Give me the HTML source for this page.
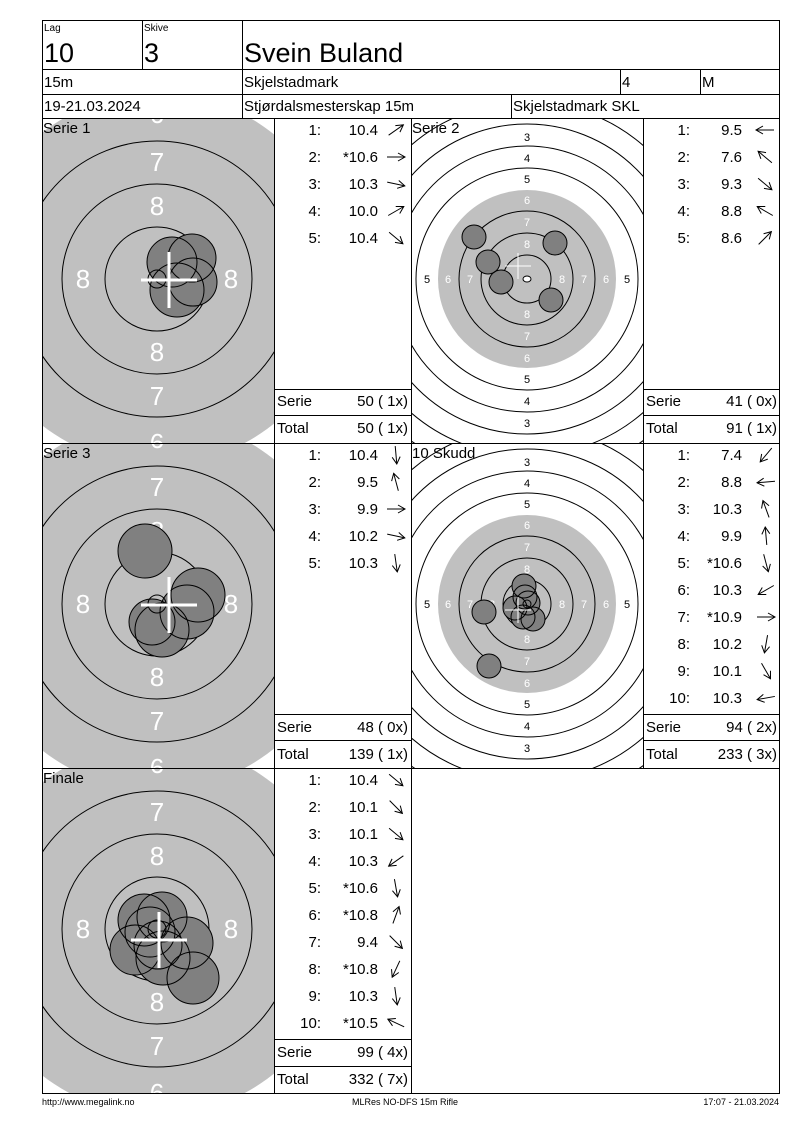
<!DOCTYPE html>
<html><head><meta charset="utf-8"><style>
html,body{margin:0;padding:0;background:#fff}
svg{display:block}
text{font-family:"Liberation Sans",Arial,sans-serif}
</style></head><body>
<svg width="800" height="1130" viewBox="0 0 800 1130" xmlns="http://www.w3.org/2000/svg">
<defs>
<clipPath id="c1" clipPathUnits="userSpaceOnUse"><rect x="43" y="119" width="231" height="324"/></clipPath>
<clipPath id="c2" clipPathUnits="userSpaceOnUse"><rect x="43" y="444" width="231" height="324"/></clipPath>
<clipPath id="c3" clipPathUnits="userSpaceOnUse"><rect x="43" y="769" width="231" height="324"/></clipPath>
<clipPath id="d1" clipPathUnits="userSpaceOnUse"><rect x="412" y="119" width="231" height="324"/></clipPath>
<clipPath id="d2" clipPathUnits="userSpaceOnUse"><rect x="412" y="444" width="231" height="324"/></clipPath>
</defs>

<g clip-path="url(#c1)"><g transform="translate(157,279)">
<circle r="186" fill="#c0c0c0"/>
<g fill="none" stroke="#000"><circle r="52"/><circle r="95"/><circle r="138"/></g>
<g fill="#fff" font-size="26" text-anchor="middle"><text x="0" y="-64">8</text><text x="0" y="82">8</text><text x="-74" y="9">8</text><text x="74" y="9">8</text><text x="0" y="-108">7</text><text x="0" y="126">7</text><text x="0" y="-156">6</text><text x="0" y="173">6</text></g>
</g>
<g fill="#808080"><circle cx="192" cy="258" r="24"/><circle cx="172" cy="262" r="25"/><circle cx="193" cy="282" r="24"/><circle cx="177" cy="290" r="27"/></g>
<g fill="none" stroke="#000"><circle cx="192" cy="258" r="24"/><circle cx="172" cy="262" r="25"/><circle cx="193" cy="282" r="24"/><circle cx="177" cy="290" r="27"/><circle cx="157" cy="279" r="9"/></g>
<g stroke="#fff" stroke-width="3"><line x1="141" y1="280" x2="197" y2="280"/><line x1="169" y1="252" x2="169" y2="308"/></g>
</g>

<g clip-path="url(#c2)"><g transform="translate(157,604)">
<circle r="186" fill="#c0c0c0"/>
<g fill="none" stroke="#000"><circle r="52"/><circle r="95"/><circle r="138"/></g>
<g fill="#fff" font-size="26" text-anchor="middle"><text x="0" y="-64">8</text><text x="0" y="82">8</text><text x="-74" y="9">8</text><text x="74" y="9">8</text><text x="0" y="-108">7</text><text x="0" y="126">7</text><text x="0" y="-156">6</text><text x="0" y="173">6</text></g>
</g>
<g fill="#808080"><circle cx="145" cy="551" r="27"/><circle cx="198" cy="595" r="27"/><circle cx="187" cy="612" r="27"/><circle cx="152" cy="622" r="23"/><circle cx="162" cy="630" r="27"/></g>
<g fill="none" stroke="#000"><circle cx="145" cy="551" r="27"/><circle cx="198" cy="595" r="27"/><circle cx="187" cy="612" r="27"/><circle cx="152" cy="622" r="23"/><circle cx="162" cy="630" r="27"/><circle cx="157" cy="604" r="9"/></g>
<g stroke="#fff" stroke-width="3"><line x1="141" y1="605" x2="197" y2="605"/><line x1="169" y1="577" x2="169" y2="633"/></g>
</g>

<g clip-path="url(#c3)"><g transform="translate(157,929)">
<circle r="186" fill="#c0c0c0"/>
<g fill="none" stroke="#000"><circle r="52"/><circle r="95"/><circle r="138"/></g>
<g fill="#fff" font-size="26" text-anchor="middle"><text x="0" y="-64">8</text><text x="0" y="82">8</text><text x="-74" y="9">8</text><text x="74" y="9">8</text><text x="0" y="-108">7</text><text x="0" y="126">7</text><text x="0" y="-156">6</text><text x="0" y="173">6</text></g>
</g>
<g fill="#808080"><circle cx="144" cy="920" r="26"/><circle cx="162" cy="917" r="25"/><circle cx="135" cy="950" r="25"/><circle cx="187" cy="943" r="26"/><circle cx="150" cy="932" r="25"/><circle cx="193" cy="978" r="26"/><circle cx="158" cy="945" r="24"/><circle cx="163" cy="958" r="27"/></g>
<g fill="none" stroke="#000"><circle cx="144" cy="920" r="26"/><circle cx="162" cy="917" r="25"/><circle cx="135" cy="950" r="25"/><circle cx="187" cy="943" r="26"/><circle cx="150" cy="932" r="25"/><circle cx="193" cy="978" r="26"/><circle cx="158" cy="945" r="24"/><circle cx="163" cy="958" r="27"/><circle cx="157" cy="929" r="9"/></g>
<g stroke="#fff" stroke-width="3"><line x1="131" y1="940" x2="187" y2="940"/><line x1="159" y1="912" x2="159" y2="968"/></g>
</g>

<g clip-path="url(#d1)"><g transform="translate(527,279)">
<g fill="none" stroke="#000"><circle r="221"/><circle r="199"/><circle r="177"/><circle r="155"/><circle r="133"/><circle r="111"/></g>
<circle r="89" fill="#c0c0c0"/>
<g fill="none" stroke="#000"><circle r="68"/><circle r="46"/><circle r="24"/></g>
<g font-size="11" text-anchor="middle" fill="#000"><text y="-138">3</text><text y="-117">4</text><text y="-96">5</text><text y="104">5</text><text y="126">4</text><text y="148">3</text><text x="-100" y="4">5</text><text x="100" y="4">5</text></g>
<g font-size="11" text-anchor="middle" fill="#fff"><text y="-75">6</text><text y="-53">7</text><text y="-31">8</text><text y="39">8</text><text y="61">7</text><text y="83">6</text><text x="-79" y="4">6</text><text x="-57" y="4">7</text><text x="-35" y="4">8</text><text x="79" y="4">6</text><text x="57" y="4">7</text><text x="35" y="4">8</text></g>
<ellipse rx="4" ry="3" fill="#fff" stroke="#000"/>
</g>
<g fill="#808080"><circle cx="474" cy="237" r="12"/><circle cx="555" cy="243" r="12"/><circle cx="488" cy="262" r="12"/><circle cx="501" cy="282" r="12"/><circle cx="551" cy="300" r="12"/></g>
<g fill="none" stroke="#000"><circle cx="474" cy="237" r="12"/><circle cx="555" cy="243" r="12"/><circle cx="488" cy="262" r="12"/><circle cx="501" cy="282" r="12"/><circle cx="551" cy="300" r="12"/></g>
<g stroke="#fff" stroke-width="1"><line x1="505" y1="266" x2="531" y2="266"/><line x1="518" y1="253" x2="518" y2="279"/></g>
</g>

<g clip-path="url(#d2)"><g transform="translate(527,604)">
<g fill="none" stroke="#000"><circle r="221"/><circle r="199"/><circle r="177"/><circle r="155"/><circle r="133"/><circle r="111"/></g>
<circle r="89" fill="#c0c0c0"/>
<g fill="none" stroke="#000"><circle r="68"/><circle r="46"/><circle r="24"/></g>
<g font-size="11" text-anchor="middle" fill="#000"><text y="-138">3</text><text y="-117">4</text><text y="-96">5</text><text y="104">5</text><text y="126">4</text><text y="148">3</text><text x="-100" y="4">5</text><text x="100" y="4">5</text></g>
<g font-size="11" text-anchor="middle" fill="#fff"><text y="-75">6</text><text y="-53">7</text><text y="-31">8</text><text y="39">8</text><text y="61">7</text><text y="83">6</text><text x="-79" y="4">6</text><text x="-57" y="4">7</text><text x="-35" y="4">8</text><text x="79" y="4">6</text><text x="57" y="4">7</text><text x="35" y="4">8</text></g>
</g>
<g fill="#808080"><circle cx="524" cy="586" r="12"/><circle cx="484" cy="612" r="12"/><circle cx="489" cy="666" r="12"/><circle cx="528" cy="603" r="12"/><circle cx="533" cy="619" r="12"/><circle cx="523" cy="617" r="12"/><circle cx="525" cy="597" r="12"/><circle cx="515" cy="608" r="12"/></g>
<g fill="none" stroke="#000"><circle cx="524" cy="586" r="12"/><circle cx="484" cy="612" r="12"/><circle cx="489" cy="666" r="12"/><circle cx="528" cy="603" r="12"/><circle cx="533" cy="619" r="12"/><circle cx="523" cy="617" r="12"/><circle cx="525" cy="597" r="12"/><circle cx="515" cy="608" r="12"/><circle cx="527" cy="604" r="4"/></g>
<g stroke="#fff" stroke-width="1"><line x1="505" y1="610" x2="531" y2="610"/><line x1="518" y1="597" x2="518" y2="623"/></g>
</g>

<g stroke="#000" stroke-width="1" fill="none" shape-rendering="crispEdges">
<rect x="42.5" y="20.5" width="737" height="1073"/>
<line x1="42" y1="69.5" x2="780" y2="69.5"/>
<line x1="42" y1="94.5" x2="780" y2="94.5"/>
<line x1="42" y1="118.5" x2="780" y2="118.5"/>
<line x1="142.5" y1="20" x2="142.5" y2="69"/>
<line x1="242.5" y1="20" x2="242.5" y2="118"/>
<line x1="620.5" y1="69" x2="620.5" y2="94"/>
<line x1="700.5" y1="69" x2="700.5" y2="94"/>
<line x1="511.5" y1="94" x2="511.5" y2="118"/>
<line x1="42" y1="443.5" x2="780" y2="443.5"/>
<line x1="42" y1="768.5" x2="780" y2="768.5"/>
<line x1="274.5" y1="118" x2="274.5" y2="1093"/>
<line x1="411.5" y1="118" x2="411.5" y2="1093"/>
<line x1="643.5" y1="118" x2="643.5" y2="768"/>
<line x1="274" y1="389.5" x2="411" y2="389.5"/>
<line x1="274" y1="415.5" x2="411" y2="415.5"/>
<line x1="643" y1="389.5" x2="780" y2="389.5"/>
<line x1="643" y1="415.5" x2="780" y2="415.5"/>
<line x1="274" y1="714.5" x2="411" y2="714.5"/>
<line x1="274" y1="740.5" x2="411" y2="740.5"/>
<line x1="643" y1="714.5" x2="780" y2="714.5"/>
<line x1="643" y1="740.5" x2="780" y2="740.5"/>
<line x1="274" y1="1039.5" x2="411" y2="1039.5"/>
<line x1="274" y1="1066.5" x2="411" y2="1066.5"/>
</g>

<g fill="#000">
<text x="44" y="31" font-size="10">Lag</text>
<text x="144" y="31" font-size="10">Skive</text>
<text x="44" y="62" font-size="27">10</text>
<text x="144" y="62" font-size="27">3</text>
<text x="244" y="62" font-size="27">Svein Buland</text>
<text x="44" y="87" font-size="15">15m</text>
<text x="244" y="87" font-size="15">Skjelstadmark</text>
<text x="622" y="87" font-size="15">4</text>
<text x="702" y="87" font-size="15">M</text>
<text x="44" y="111" font-size="15">19-21.03.2024</text>
<text x="244" y="111" font-size="15">Stjørdalsmesterskap 15m</text>
<text x="513" y="111" font-size="15">Skjelstadmark SKL</text>
<text x="43" y="133" font-size="15">Serie 1</text>
<text x="412" y="133" font-size="15">Serie 2</text>
<text x="43" y="458" font-size="15">Serie 3</text>
<text x="412" y="458" font-size="15">10 Skudd</text>
<text x="43" y="783" font-size="15">Finale</text>
</g>

<g font-size="15" fill="#000">
<g text-anchor="end">
<text x="321" y="135">1:</text><text x="378" y="135">10.4</text>
<text x="321" y="162">2:</text><text x="378" y="162">*10.6</text>
<text x="321" y="189">3:</text><text x="378" y="189">10.3</text>
<text x="321" y="216">4:</text><text x="378" y="216">10.0</text>
<text x="321" y="243">5:</text><text x="378" y="243">10.4</text>
<text x="408" y="406">50 ( 1x)</text><text x="408" y="433">50 ( 1x)</text>

<text x="690" y="135">1:</text><text x="742" y="135">9.5</text>
<text x="690" y="162">2:</text><text x="742" y="162">7.6</text>
<text x="690" y="189">3:</text><text x="742" y="189">9.3</text>
<text x="690" y="216">4:</text><text x="742" y="216">8.8</text>
<text x="690" y="243">5:</text><text x="742" y="243">8.6</text>
<text x="777" y="406">41 ( 0x)</text><text x="777" y="433">91 ( 1x)</text>

<text x="321" y="460">1:</text><text x="378" y="460">10.4</text>
<text x="321" y="487">2:</text><text x="378" y="487">9.5</text>
<text x="321" y="514">3:</text><text x="378" y="514">9.9</text>
<text x="321" y="541">4:</text><text x="378" y="541">10.2</text>
<text x="321" y="568">5:</text><text x="378" y="568">10.3</text>
<text x="408" y="732">48 ( 0x)</text><text x="408" y="759">139 ( 1x)</text>

<text x="690" y="460">1:</text><text x="742" y="460">7.4</text>
<text x="690" y="487">2:</text><text x="742" y="487">8.8</text>
<text x="690" y="514">3:</text><text x="742" y="514">10.3</text>
<text x="690" y="541">4:</text><text x="742" y="541">9.9</text>
<text x="690" y="568">5:</text><text x="742" y="568">*10.6</text>
<text x="690" y="595">6:</text><text x="742" y="595">10.3</text>
<text x="690" y="622">7:</text><text x="742" y="622">*10.9</text>
<text x="690" y="649">8:</text><text x="742" y="649">10.2</text>
<text x="690" y="676">9:</text><text x="742" y="676">10.1</text>
<text x="690" y="703">10:</text><text x="742" y="703">10.3</text>
<text x="777" y="732">94 ( 2x)</text><text x="777" y="759">233 ( 3x)</text>

<text x="321" y="785">1:</text><text x="378" y="785">10.4</text>
<text x="321" y="812">2:</text><text x="378" y="812">10.1</text>
<text x="321" y="839">3:</text><text x="378" y="839">10.1</text>
<text x="321" y="866">4:</text><text x="378" y="866">10.3</text>
<text x="321" y="893">5:</text><text x="378" y="893">*10.6</text>
<text x="321" y="920">6:</text><text x="378" y="920">*10.8</text>
<text x="321" y="947">7:</text><text x="378" y="947">9.4</text>
<text x="321" y="974">8:</text><text x="378" y="974">*10.8</text>
<text x="321" y="1001">9:</text><text x="378" y="1001">10.3</text>
<text x="321" y="1028">10:</text><text x="378" y="1028">*10.5</text>
<text x="408" y="1057">99 ( 4x)</text><text x="408" y="1084">332 ( 7x)</text>
</g>
<text x="277" y="406">Serie</text><text x="277" y="433">Total</text>
<text x="646" y="406">Serie</text><text x="646" y="433">Total</text>
<text x="277" y="732">Serie</text><text x="277" y="759">Total</text>
<text x="646" y="732">Serie</text><text x="646" y="759">Total</text>
<text x="277" y="1057">Serie</text><text x="277" y="1084">Total</text>
</g>

<g stroke="#000" stroke-width="1" fill="none">
<g transform="translate(396,130) rotate(-35)"><line x1="-9" x2="9"/><polyline points="2,-4 9,0 2,4"/></g>
<g transform="translate(396,157) rotate(0)"><line x1="-9" x2="9"/><polyline points="2,-4 9,0 2,4"/></g>
<g transform="translate(396,184) rotate(12)"><line x1="-9" x2="9"/><polyline points="2,-4 9,0 2,4"/></g>
<g transform="translate(396,211) rotate(-30)"><line x1="-9" x2="9"/><polyline points="2,-4 9,0 2,4"/></g>
<g transform="translate(396,238) rotate(40)"><line x1="-9" x2="9"/><polyline points="2,-4 9,0 2,4"/></g>

<g transform="translate(765,130) rotate(180)"><line x1="-9" x2="9"/><polyline points="2,-4 9,0 2,4"/></g>
<g transform="translate(765,157) rotate(-140)"><line x1="-9" x2="9"/><polyline points="2,-4 9,0 2,4"/></g>
<g transform="translate(765,184) rotate(40)"><line x1="-9" x2="9"/><polyline points="2,-4 9,0 2,4"/></g>
<g transform="translate(765,211) rotate(-150)"><line x1="-9" x2="9"/><polyline points="2,-4 9,0 2,4"/></g>
<g transform="translate(765,238) rotate(-45)"><line x1="-9" x2="9"/><polyline points="2,-4 9,0 2,4"/></g>

<g transform="translate(396,455) rotate(85)"><line x1="-9" x2="9"/><polyline points="2,-4 9,0 2,4"/></g>
<g transform="translate(396,482) rotate(-105)"><line x1="-9" x2="9"/><polyline points="2,-4 9,0 2,4"/></g>
<g transform="translate(396,509) rotate(0)"><line x1="-9" x2="9"/><polyline points="2,-4 9,0 2,4"/></g>
<g transform="translate(396,536) rotate(12)"><line x1="-9" x2="9"/><polyline points="2,-4 9,0 2,4"/></g>
<g transform="translate(396,563) rotate(82)"><line x1="-9" x2="9"/><polyline points="2,-4 9,0 2,4"/></g>

<g transform="translate(766,455) rotate(130)"><line x1="-9" x2="9"/><polyline points="2,-4 9,0 2,4"/></g>
<g transform="translate(766,482) rotate(175)"><line x1="-9" x2="9"/><polyline points="2,-4 9,0 2,4"/></g>
<g transform="translate(766,509) rotate(-110)"><line x1="-9" x2="9"/><polyline points="2,-4 9,0 2,4"/></g>
<g transform="translate(766,536) rotate(-95)"><line x1="-9" x2="9"/><polyline points="2,-4 9,0 2,4"/></g>
<g transform="translate(766,563) rotate(75)"><line x1="-9" x2="9"/><polyline points="2,-4 9,0 2,4"/></g>
<g transform="translate(766,590) rotate(150)"><line x1="-9" x2="9"/><polyline points="2,-4 9,0 2,4"/></g>
<g transform="translate(766,617) rotate(0)"><line x1="-9" x2="9"/><polyline points="2,-4 9,0 2,4"/></g>
<g transform="translate(766,644) rotate(100)"><line x1="-9" x2="9"/><polyline points="2,-4 9,0 2,4"/></g>
<g transform="translate(766,671) rotate(60)"><line x1="-9" x2="9"/><polyline points="2,-4 9,0 2,4"/></g>
<g transform="translate(766,698) rotate(170)"><line x1="-9" x2="9"/><polyline points="2,-4 9,0 2,4"/></g>

<g transform="translate(396,780) rotate(40)"><line x1="-9" x2="9"/><polyline points="2,-4 9,0 2,4"/></g>
<g transform="translate(396,807) rotate(45)"><line x1="-9" x2="9"/><polyline points="2,-4 9,0 2,4"/></g>
<g transform="translate(396,834) rotate(40)"><line x1="-9" x2="9"/><polyline points="2,-4 9,0 2,4"/></g>
<g transform="translate(396,861) rotate(145)"><line x1="-9" x2="9"/><polyline points="2,-4 9,0 2,4"/></g>
<g transform="translate(396,888) rotate(80)"><line x1="-9" x2="9"/><polyline points="2,-4 9,0 2,4"/></g>
<g transform="translate(396,915) rotate(-70)"><line x1="-9" x2="9"/><polyline points="2,-4 9,0 2,4"/></g>
<g transform="translate(396,942) rotate(45)"><line x1="-9" x2="9"/><polyline points="2,-4 9,0 2,4"/></g>
<g transform="translate(396,969) rotate(115)"><line x1="-9" x2="9"/><polyline points="2,-4 9,0 2,4"/></g>
<g transform="translate(396,996) rotate(82)"><line x1="-9" x2="9"/><polyline points="2,-4 9,0 2,4"/></g>
<g transform="translate(396,1023) rotate(-155)"><line x1="-9" x2="9"/><polyline points="2,-4 9,0 2,4"/></g>
</g>

<g font-size="9" fill="#000">
<text x="42" y="1105">http://www.megalink.no</text>
<text x="405" y="1105" text-anchor="middle">MLRes NO-DFS 15m Rifle</text>
<text x="779" y="1105" text-anchor="end">17:07 - 21.03.2024</text>
</g>
</svg>
</body></html>
